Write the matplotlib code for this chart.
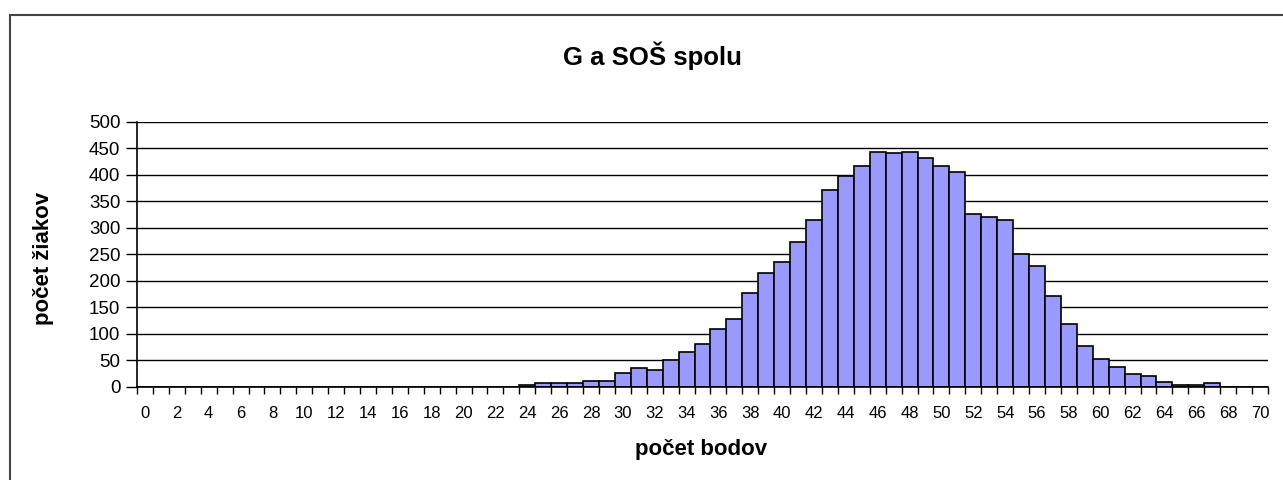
import matplotlib
matplotlib.use("Agg")
import matplotlib.pyplot as plt
from matplotlib.patches import Rectangle

plt.rcParams['font.family'] = ['Liberation Sans', 'DejaVu Sans']

points = list(range(0, 71))
counts = [0]*24 + [3, 6, 6, 6, 11, 11, 26, 35, 32, 50, 65, 80, 109, 128, 177, 215,
                   235, 273, 315, 371, 397, 417, 444, 441, 444, 432, 417, 406, 326, 320,
                   315, 250, 227, 171, 119, 77, 52, 36, 23, 20, 9, 3, 3, 6, 0, 0, 0]
tick_labels = [str(v) for v in range(0, 71, 2)]
title = "G a SOŠ spolu"
xlabel = "počet bodov"
ylabel = "počet žiakov"

W, H = 1283, 480
fig = plt.figure(figsize=(W/100, H/100), dpi=100)
ax = fig.add_axes([137/W, 1-386.5/H, (1268-137)/W, (386.5-122)/H])

ax.bar(points, counts, width=1.0, color='#9999FF', edgecolor='black', linewidth=1.2, zorder=3)

ax.set_xlim(-0.5, 70.5)
ax.set_ylim(0, 500)
ax.set_yticks(range(0, 501, 50))
ax.yaxis.grid(True, color='black', linewidth=1.0, zorder=0)
ax.set_axisbelow(True)

ax.set_xticks(range(0, 71, 2))
ax.set_xticklabels(tick_labels, fontsize=12)
ax.set_xticks([i - 0.5 for i in range(0, 72)], minor=True)
ax.tick_params(axis='x', which='major', length=0, pad=14)
ax.tick_params(axis='x', which='minor', length=5, width=1, direction='out', color='black')
ax.tick_params(axis='y', length=8, width=1, direction='out', labelsize=13.5, pad=4, color='black')

for s in ['top', 'right']:
    ax.spines[s].set_visible(False)
for s in ['left', 'bottom']:
    ax.spines[s].set_color('black')
    ax.spines[s].set_linewidth(1.2)
    ax.spines[s].set_zorder(4)

fig.text(652/W, 1-56/H, title, ha='center', va='center', fontsize=18.5, fontweight='bold')
fig.text(701/W, 1-450/H, xlabel, ha='center', va='center', fontsize=16, fontweight='bold')
fig.text(44/W, 1-258/H, ylabel, ha='center', va='center', rotation=90, fontsize=16, fontweight='bold')

fig.patches.append(Rectangle((9.5/W, -0.1), 1.2, 1.1 - 14.5/H, transform=fig.transFigure,
                             fill=False, edgecolor='#444444', linewidth=1.5))

fig.savefig("out.png", dpi=100, facecolor='white')
